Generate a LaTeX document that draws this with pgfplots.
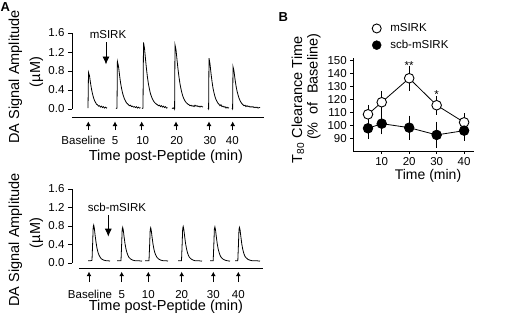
\documentclass[border=0pt]{standalone}
\usepackage{fontspec}
\setmainfont{Liberation Sans}
\usepackage{pgfplots}
\pgfplotsset{compat=1.18}
\usetikzlibrary{arrows.meta}
\newcommand{\lbl}{\fontsize{14.5}{16}\selectfont}
\newcommand{\tck}{\fontsize{11.5}{13}\selectfont}
\pgfplotsset{
  traceax/.style={
    scale only axis, width=192pt, xmin=72, xmax=264, ymax=1.6,
    axis x line*=bottom, axis y line*=left,
    x axis line style={draw=none}, y axis line style={draw=none},
    ytick={0,0.4,0.8,1.2,1.6},
    yticklabel style={/pgf/number format/.cd, fixed, fixed zerofill, precision=1},
    /pgf/number format/assume math mode=true,
    tick align=outside, major tick length=4pt,
    major x tick style={draw=none},
    tick label style={font=\tck},
    xticklabels={Baseline,5,10,20,30,40},
    xticklabel style={anchor=base},
    tick style={black, line width=0.8pt},
    clip=false,
  },
  tr/.style={black, line width=0.8pt, mark=none},
}
\begin{document}
\begin{tikzpicture}[x=1pt,y=1pt,
  arr/.style={-{Latex[length=4.5pt,width=5pt]}, line width=0.8pt},
  bigarr/.style={-{Latex[length=8pt,width=7pt]}, line width=0.9pt}]
\useasboundingbox (0,0) rectangle (530,317);

% ---------- Panel A, top (mSIRK) ----------
\begin{axis}[traceax, at={(72pt,200pt)}, anchor=south west, height=84pt, ymin=-0.168,
  xtick={83.5,115,142.7,176.7,210,232.3}, xticklabel style={yshift=-23pt}]
\addplot[tr] coordinates {(88,0.02) (88.5,0.77) (89.5,0.70) (90.5,0.55) (91.5,0.42) (92.5,0.32) (93.5,0.24) (94.5,0.18) (95.5,0.14) (96.5,0.10) (97.5,0.09) (98.5,0.06) (99.5,0.07) (100.5,0.04) (101.5,0.06) (102.5,0.03) (103.5,0.05) (104.5,0.02) (105.5,0.04) (106.5,0.02) (107,0.03)};
\addplot[tr] coordinates {(116,0.01) (117,0.02) (117.4,1.00) (118.5,0.90) (119.5,0.72) (120.5,0.56) (121.5,0.44) (122.5,0.34) (123.5,0.27) (124.5,0.21) (125.5,0.17) (126.5,0.13) (127.5,0.11) (128.5,0.09) (129.5,0.07) (130.5,0.08) (131.5,0.05) (132.5,0.06) (133.5,0.04) (134.5,0.05) (135.5,0.03) (136.5,0.05) (137.5,0.02) (138.5,0.04) (139.5,0.02) (140.5,0.03)};
\addplot[tr] coordinates {(142,0.01) (143,0.02) (143.5,1.40) (144.5,1.28) (145.5,1.05) (146.5,0.84) (147.5,0.66) (148.5,0.52) (149.5,0.41) (150.5,0.32) (151.5,0.26) (152.5,0.21) (153.5,0.17) (154.5,0.14) (155.5,0.12) (156.5,0.10) (157.5,0.09) (158.5,0.07) (159.5,0.08) (160.5,0.05) (161.5,0.07) (162.5,0.04) (163.5,0.06) (164.5,0.03) (165.5,0.05) (166.5,0.02) (167.5,0.03)};
\addplot[tr] coordinates {(172,0.02) (173,0.01) (174,0.03) (174.6,0.00) (175,1.35) (176,1.25) (177,1.04) (178,0.84) (179,0.67) (180,0.53) (181,0.42) (182,0.33) (183,0.26) (184,0.21) (185,0.17) (186,0.14) (187,0.12) (188,0.10) (189,0.09) (190,0.07) (191,0.08) (192,0.06) (193,0.07) (194,0.05) (195,0.08) (196,0.06) (197,0.07) (198,0.05) (199,0.06) (200,0.04) (201,0.06) (202,0.05) (203,0.04)};
\addplot[tr] coordinates {(208,0.02) (208.6,0.00) (209,1.07) (210,0.95) (211,0.75) (212,0.58) (213,0.44) (214,0.34) (215,0.26) (216,0.20) (217,0.16) (218,0.12) (219,0.10) (220,0.07) (221,0.09) (222,0.05) (223,0.06) (224,0.04) (225,0.05) (226,0.02) (227,0.04) (228,0.02) (229,0.03)};
\addplot[tr] coordinates {(232,0.02) (232.6,0.00) (233,0.89) (234,0.80) (235,0.63) (236,0.49) (237,0.38) (238,0.30) (239,0.23) (240,0.18) (241,0.14) (242,0.11) (243,0.09) (244,0.07) (245,0.08) (246,0.05) (247,0.07) (248,0.05) (249,0.06) (250,0.04) (251,0.05) (252,0.04) (253,0.05) (254,0.03) (255,0.04) (256,0.03) (257,0.04) (258,0.02) (259,0.03) (260,0.03)};
\draw[line width=0.8pt] (axis cs:72,0) -- (axis cs:72,1.6);
\draw[line width=0.8pt] (axis cs:72,-0.168) -- (axis cs:264,-0.168);
\end{axis}

% ---------- Panel A, bottom (scb-mSIRK) ----------
\begin{axis}[traceax, at={(72pt,48.7pt)}, anchor=south west, height=79.3pt, ymin=-0.115,
  xtick={90,121.7,148.3,181.7,213.3,238.3}, xticklabel style={yshift=-25.7pt}]
\addplot[tr] coordinates {(88,0.05) (89,0.05) (90,0.05) (91,0.05) (92,0.06) (92.6,0.40) (93.2,0.78) (93.7,0.82) (94.3,0.76) (95,0.62) (96,0.45) (97,0.32) (98,0.23) (99,0.17) (100,0.13) (101,0.10) (102,0.08) (103,0.07) (104,0.06) (106,0.05) (108,0.05) (110,0.04)};
\addplot[tr] coordinates {(117,0.05) (119,0.05) (121,0.05) (121.6,0.38) (122.2,0.73) (122.7,0.77) (123.3,0.71) (124,0.58) (125,0.42) (126,0.30) (127,0.22) (128,0.16) (129,0.12) (130,0.10) (131,0.08) (132,0.07) (133,0.06) (135,0.05) (138,0.05) (142,0.04)};
\addplot[tr] coordinates {(145,0.05) (147,0.05) (149,0.05) (149.6,0.37) (150.2,0.72) (150.7,0.76) (151.3,0.70) (152,0.57) (153,0.41) (154,0.29) (155,0.21) (156,0.16) (157,0.12) (158,0.10) (159,0.08) (160,0.07) (161,0.06) (163,0.05) (166,0.05) (168,0.04)};
\addplot[tr] coordinates {(178,0.05) (180,0.05) (181.5,0.05) (182.1,0.38) (182.7,0.75) (183.2,0.79) (183.8,0.73) (184.5,0.60) (185.5,0.43) (186.5,0.31) (187.5,0.22) (188.5,0.16) (189.5,0.12) (190.5,0.10) (191.5,0.08) (192.5,0.07) (193.5,0.06) (195,0.05) (198,0.05) (202,0.04)};
\addplot[tr] coordinates {(210,0.05) (212,0.05) (213.2,0.05) (213.8,0.38) (214.4,0.74) (214.9,0.78) (215.5,0.72) (216.2,0.59) (217.2,0.42) (218.2,0.30) (219.2,0.22) (220.2,0.16) (221.2,0.12) (222.2,0.10) (223.2,0.08) (224.2,0.07) (225.2,0.06) (227,0.05) (230,0.04)};
\addplot[tr] coordinates {(235,0.05) (236.5,0.05) (237.8,0.05) (238.4,0.37) (239,0.73) (239.5,0.77) (240.1,0.71) (240.8,0.58) (241.8,0.41) (242.8,0.29) (243.8,0.21) (244.8,0.15) (245.8,0.12) (246.8,0.10) (247.8,0.08) (248.8,0.07) (250,0.06) (252,0.05) (256,0.05) (260,0.04)};
\draw[line width=0.8pt] (axis cs:72,0) -- (axis cs:72,1.6);
\draw[line width=0.8pt] (axis cs:79,-0.115) -- (axis cs:263,-0.115);
\end{axis}

% ---------- Panel B ----------
\begin{axis}[at={(353.3pt,166pt)}, anchor=south west, scale only axis,
  width=120.7pt, height=92.7pt,
  xmin=-0.35, xmax=43.6, ymin=80.5, ymax=152,
  axis x line*=bottom, axis y line*=left,
  tick align=outside, major tick length=3pt,
  xtick={10,20,30,40}, ytick={90,100,110,120,130,140,150},
  tick label style={font=\tck}, /pgf/number format/assume math mode=true,
  xticklabel style={anchor=base, inner sep=0pt, yshift=-11.4pt},
  axis line style={line width=0.8pt}, tick style={black, line width=0.8pt},
  clip=false,
  legend style={at={(0.155,1.397)}, anchor=north west, draw=none, fill=none,
    font=\tck, row sep=3pt, inner sep=0pt},
  legend cell align=left,
  legend image code/.code={\draw[#1] plot[only marks] coordinates {(0.15cm,0cm)}; \path (0.55cm,0cm);},
]
\addlegendimage{black, mark=*, mark size=4.5pt, mark options={fill=white, line width=0.9pt}}
\addlegendentry{mSIRK}
\addlegendimage{black, mark=*, mark size=4.5pt, mark options={fill=black}}
\addlegendentry{scb-mSIRK}
\addplot[black, only marks, mark=none, forget plot,
  error bars/.cd, y dir=both, y explicit,
  error bar style={line width=0.8pt}, error mark options={mark size=3.5pt, line width=0.8pt}]
  coordinates {(5,108.8) +- (0,4.5) (10,118.1) +- (0,6) (20,136.6) +- (0,7) (30,115.8) +- (0,4.5) (40,102.6) +- (0,4.5)};
\addplot[black, only marks, mark=none, forget plot,
  error bars/.cd, y dir=both, y explicit,
  error bar style={line width=0.8pt}, error mark options={mark size=3.5pt, line width=0.8pt}]
  coordinates {(5,98.0) +- (0,5.5) (10,101.6) +- (0,5.5) (20,98.5) +- (0,6.5) (30,92.9) +- (0,7.5) (40,96.2) +- (0,5)};
\addplot[black, line width=0.8pt, mark=*, mark size=4.8pt, mark options={fill=white, line width=0.9pt}, forget plot]
  coordinates {(5,108.8) (10,118.1) (20,136.6) (30,115.8) (40,102.6)};
\addplot[black, line width=0.8pt, mark=*, mark size=4.8pt, mark options={fill=black}, forget plot]
  coordinates {(5,98.0) (10,101.6) (20,98.5) (30,92.9) (40,96.2)};
\node[font=\tck] at (axis cs:20,146.1) {**};
\node[font=\tck] at (axis cs:30,123.7) {*};
\end{axis}

% ---------- annotations ----------
\foreach \x in {88.3,115,141.7,176,209,232.7} \draw[arr] (\x,187) -- (\x,195.5);
\foreach \x in {89,121.7,148.3,181.7,213.3,238.3} \draw[arr] (\x,35) -- (\x,45.3);
\draw[bigarr] (106,275) -- (106,252.5);
\node[anchor=base, font=\tck] at (108,278.7) {mSIRK};
\draw[bigarr] (108.3,102) -- (108.3,80.3);
\node[anchor=base, font=\tck] at (117,105.3) {scb-mSIRK};

\node[anchor=base, font=\lbl] at (166,157) {Time post-Peptide (min)};
\node[anchor=base, font=\lbl] at (166,6.3) {Time post-Peptide (min)};
\node[rotate=90, anchor=base west, font=\lbl] at (19,170) {DA Signal Amplitude};
\node[rotate=90, anchor=base, font=\lbl] at (40,245) {(µM)};
\node[rotate=90, anchor=base west, font=\lbl] at (19,7) {DA Signal Amplitude};
\node[rotate=90, anchor=base, font=\lbl] at (40,84) {(µM)};

\node[anchor=base, font=\fontsize{14}{16}\selectfont, inner sep=0pt] at (428,137.5) {Time (min)};
\node[rotate=90, anchor=base east, font=\lbl] at (302,284) {T\textsubscript{80} Clearance Time};
\node[rotate=90, anchor=base east, font=\lbl] at (317.5,287) {(\%~~of~~Baseline)};

\node[anchor=base west, font=\bfseries\fontsize{13}{15}\selectfont, inner sep=0pt] at (0.5,306) {A};
\node[anchor=base west, font=\bfseries\fontsize{13}{15}\selectfont] at (275,295.3) {B};
\end{tikzpicture}
\end{document}
